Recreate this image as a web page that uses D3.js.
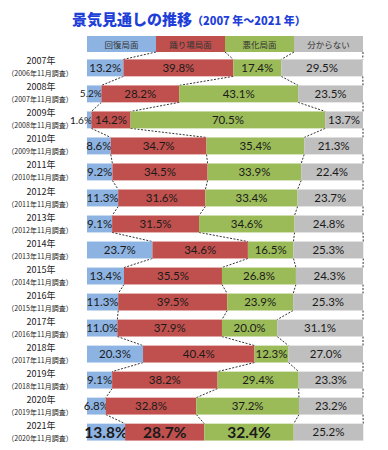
<!DOCTYPE html>
<html>
<head>
<meta charset="utf-8">
<script src="https://cdn.jsdelivr.net/npm/d3@7"></script>
<style>
  body { margin: 0; background: #fff; }
  svg { display: block; font-family: Lato, "Noto Sans CJK JP", sans-serif; }
</style>
</head>
<body>
<svg width="388" height="450"></svg>
<script>
var svg = d3.select("svg");

// data
var years = ["2007年", "2008年", "2009年", "2010年", "2011年", "2012年", "2013年", "2014年",
  "2015年", "2016年", "2017年", "2018年", "2019年", "2020年", "2021年"];
var surveys = ["（2006年11月調査）", "（2007年11月調査）", "（2008年11月調査）", "（2009年11月調査）",
  "（2010年11月調査）", "（2011年11月調査）", "（2012年11月調査）", "（2013年11月調査）",
  "（2014年11月調査）", "（2015年11月調査）", "（2016年11月調査）", "（2017年11月調査）",
  "（2018年11月調査）", "（2019年11月調査）", "（2020年11月調査）"];
var categories = ["回復局面", "踊り場局面", "悪化局面", "分からない"];
var recovery = [13.2, 5.2, 1.6, 8.6, 9.2, 11.3, 9.1, 23.7, 13.4, 11.3, 11.0, 20.3, 9.1, 6.8, 13.8];
var plateau  = [39.8, 28.2, 14.2, 34.7, 34.5, 31.6, 31.5, 34.6, 35.5, 39.5, 37.9, 40.4, 38.2, 32.8, 28.7];
var worsening = [17.4, 43.1, 70.5, 35.4, 33.9, 33.4, 34.6, 16.5, 26.8, 23.9, 20.0, 12.3, 29.4, 37.2, 32.4];
var unknown  = [29.5, 23.5, 13.7, 21.3, 22.4, 23.7, 24.8, 25.3, 24.3, 25.3, 31.1, 27.0, 23.3, 23.2, 25.2];

var colors = ["#8db3e2", "#c0504d", "#9bbb59", "#bfbfbf"];

var rows = years.map(function(y, i) {
  return { year: y, survey: surveys[i], k0: recovery[i], k1: plateau[i], k2: worsening[i], k3: unknown[i] };
});
var keys = ["k0", "k1", "k2", "k3"];
var series = d3.stack().keys(keys)(rows);

var x = d3.scaleLinear().domain([0, 100]).range([87, 363]);
var y = d3.scaleBand().domain(years).range([55, 445]).paddingInner(0.35).paddingOuter(0.17);
var bh = y.bandwidth();
var last = years[years.length - 1];

// title
var title = svg.append("text")
  .attr("x", 72).attr("y", 25)
  .attr("fill", "#1f3fd9")
  .attr("font-weight", 900)
  .attr("font-family", "'Noto Sans CJK JP', sans-serif");
title.append("tspan").attr("font-size", 15).text("景気見通しの推移");
title.append("tspan").attr("font-size", 11).text("（2007 年～2021 年）");

// legend header
var legW = (x(100) - x(0)) / 4;
var leg = svg.append("g").selectAll("g")
  .data(categories).enter().append("g");
leg.append("rect")
  .attr("x", function(d, i) { return x(0) + i * legW; })
  .attr("y", 36).attr("width", legW).attr("height", 16)
  .attr("fill", function(d, i) { return colors[i]; });
leg.append("text")
  .attr("x", function(d, i) { return x(0) + i * legW + legW / 2; })
  .attr("y", 47.5)
  .attr("text-anchor", "middle")
  .attr("font-size", 8.5)
  .attr("font-family", "'Noto Sans CJK JP', sans-serif")
  .attr("fill", "#333")
  .text(function(d) { return d; });

// connector lines
var conn = [];
for (var k = 0; k < 4; k++) {
  conn.push({ x1: x(0) + (k + 1) * legW, y1: 52, x2: x(series[k][0][1]), y2: y(years[0]) });
  for (var i = 0; i < years.length - 1; i++) {
    conn.push({
      x1: x(series[k][i][1]), y1: y(years[i]) + bh,
      x2: x(series[k][i + 1][1]), y2: y(years[i + 1])
    });
  }
}
svg.append("g").selectAll("line")
  .data(conn).enter().append("line")
  .attr("x1", function(d) { return d.x1; })
  .attr("y1", function(d) { return d.y1; })
  .attr("x2", function(d) { return d.x2; })
  .attr("y2", function(d) { return d.y2; })
  .attr("stroke", "#333")
  .attr("stroke-width", 1)
  .attr("stroke-dasharray", "2,1.5");

// bars
var layer = svg.append("g").selectAll("g")
  .data(series).enter().append("g")
  .attr("fill", function(d, i) { return colors[i]; });
layer.selectAll("rect")
  .data(function(d) { return d; })
  .enter().append("rect")
  .attr("x", function(d) { return x(d[0]); })
  .attr("y", function(d) { return y(d.data.year); })
  .attr("width", function(d) { return x(d[1]) - x(d[0]); })
  .attr("height", bh);

// value labels
layer.selectAll("text")
  .data(function(d, i) { return d.map(function(p) { return { p: p, k: i }; }); })
  .enter().append("text")
  .each(function(d) {
    var p = d.p;
    var big = p.data.year === last && d.k < 3;
    var w = x(p[1]) - x(p[0]);
    var t = d3.select(this)
      .attr("y", y(p.data.year) + bh / 2)
      .attr("dy", "0.36em")
      .attr("fill", "#1a1a1a")
      .attr("font-size", big ? 15.5 : (w < 18 ? 10 : 11.5))
      .attr("font-weight", big ? "bold" : "normal")
      .text(d3.format(".1f")(p.data[keys[d.k]]) + "%");
    if (w < 18) {
      t.attr("x", x(p[1]) + 0.5).attr("text-anchor", "end");
    } else {
      t.attr("x", (x(p[0]) + x(p[1])) / 2).attr("text-anchor", "middle");
    }
  });

// row labels
var lab = svg.append("g").selectAll("g")
  .data(rows).enter().append("g")
  .attr("font-family", "'Noto Sans CJK JP', sans-serif")
  .attr("fill", "#222")
  .attr("text-anchor", "middle");
lab.append("text")
  .attr("x", 41)
  .attr("y", function(d) { return y(d.year) + 5; })
  .attr("font-size", 9)
  .text(function(d) { return d.year; });
lab.append("text")
  .attr("x", 40)
  .attr("y", function(d) { return y(d.year) + 17; })
  .attr("font-size", 7)
  .text(function(d) { return d.survey; });
</script>
</body>
</html>
